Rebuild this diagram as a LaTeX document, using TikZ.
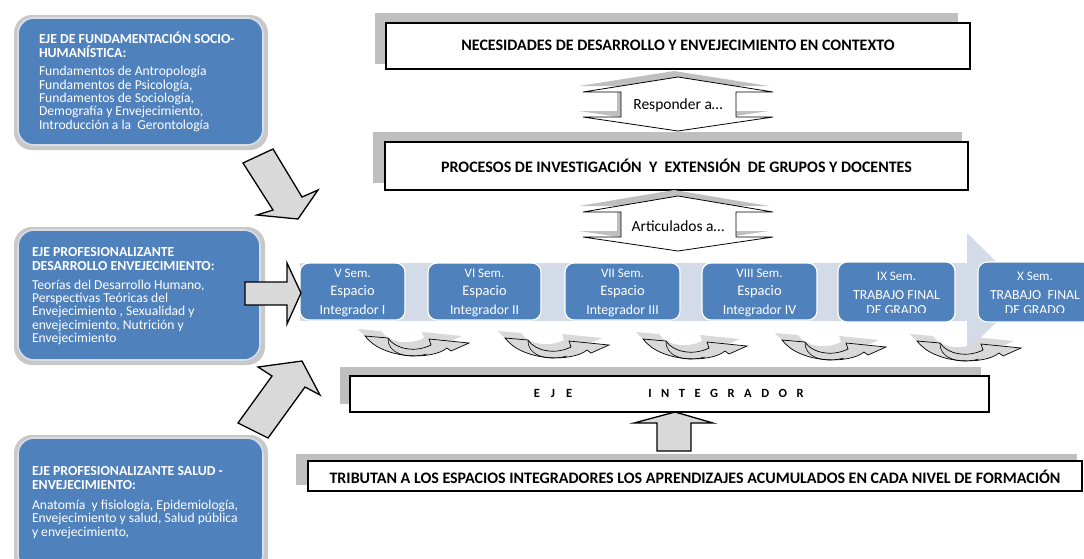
\documentclass[tikz,border=0pt]{standalone}
\usepackage{fontspec}
\setmainfont{Carlito}
\definecolor{boxblue}{HTML}{4F81BD}
\definecolor{boxedge}{HTML}{D6DEEA}
\definecolor{bandblue}{HTML}{D3DBE9}
\definecolor{shadegray}{HTML}{BFBFBF}
\definecolor{arrowfill}{HTML}{D9D9D9}
\definecolor{softshadow}{HTML}{C8C8C8}
\newcommand{\fsz}[2]{\fontsize{#1}{#2}\selectfont}
\tikzset{
  curvarrow/.pic={
    \fill[gray!30] [shift={(-7,-7)}] (0,0) -- (23,2) .. controls (30,13) and (50,17) .. (66,9) -- (64,3) -- (104,7) -- (86,15) -- (82,12) .. controls (68,24) and (18,24) .. cycle;
    \draw[draw=black, line width=0.7pt, fill=arrowfill] (0,0) -- (23,2) .. controls (30,13) and (50,17) .. (66,9) -- (64,3) -- (104,7) -- (86,15) -- (82,12) .. controls (68,24) and (18,24) .. cycle;
    \draw[line width=0.6pt] (23,2) .. controls (22,16) and (40,24) .. (62,18);
  }
}
\begin{document}
\begin{tikzpicture}[x=1pt,y=-1pt,
  every node/.style={inner sep=0pt, outer sep=0pt},
  leftbox/.style={fill=boxblue, draw=boxedge, line width=1.6pt, rounded corners=16pt},
  leftshadow/.style={fill=softshadow, rounded corners=18pt},
  lefttitle/.style={text=white, font=\fsz{13.8}{13.3}\bfseries, align=left, anchor=base west},
  leftbody/.style={text=white, font=\fsz{13.6}{13.3}, align=left, anchor=base west},
  topbox/.style={draw=black, line width=1.3pt, fill=white},
  topshadow/.style={fill=shadegray},
  toptext/.style={font=\fsz{16}{18}\bfseries},
  callout/.style={draw=black, line width=0.8pt, fill=white},
  calloutshadow/.style={fill=shadegray},
  semibox/.style={fill=boxblue, draw=white, line width=1.2pt, rounded corners=9pt},
  semA/.style={text=white, font=\fsz{13}{14}},
  semB/.style={text=white, font=\fsz{14.5}{16}},
  semC/.style={text=white, font=\fsz{13.8}{16}},
  blockarrow/.style={draw=black, line width=1.3pt, fill=arrowfill, line join=miter},
]
\useasboundingbox (0,0) rectangle (1084,558);
\clip (0,0) rectangle (1084,558);

% ---------- left boxes ----------
\fill[leftshadow] (14,15) rectangle (268,150);
\node[leftbox, minimum width=245, minimum height=127] (fund) at (140.5,81.5) {};
\node[lefttitle] (fundt) at (39,57) {EJE DE FUNDAMENTACIÓN SOCIO-\\HUMANÍSTICA:};
\node[leftbody] (fundb) at (39,129) {Fundamentos de Antropología\\Fundamentos de Psicología,\\Fundamentos de Sociología,\\Demografía y Envejecimiento,\\Introducción a la~ Gerontología};

\fill[leftshadow] (14,227) rectangle (265,365);
\node[leftbox, minimum width=242, minimum height=130] (desa) at (139,295) {};
\node[lefttitle] (desat) at (32,270) {EJE PROFESIONALIZANTE\\DESARROLLO ENVEJECIMIENTO:};
\node[leftbody] (desab) at (32,342.5) {Teorías del Desarrollo Humano,\\Perspectivas Teóricas del\\Envejecimiento , Sexualidad y\\envejecimiento, Nutrición y\\Envejecimiento};

\fill[leftshadow] (14,435) rectangle (268,575);
\node[leftbox, minimum width=245, minimum height=132] (salud) at (140.5,504) {};
\node[lefttitle] (saludt) at (32,489) {EJE PROFESIONALIZANTE SALUD -\\ENVEJECIMIENTO:};
\node[leftbody] (saludb) at (32,536) {Anatomía~ y fisiología, Epidemiología,\\Envejecimiento y salud, Salud pública\\y envejecimiento,};

% ---------- top boxes ----------
\fill[topshadow] (375,13) rectangle (958,64);
\node[topbox, minimum width=584, minimum height=46] (nec) at (678,46) {};
\node[toptext] (nect) at (678,45) {NECESIDADES DE DESARROLLO Y ENVEJECIMIENTO EN CONTEXTO};

\fill[calloutshadow] [shift={(-4,-6)}] (678,77) -- (773,92) -- (736,92) -- (736,117) -- (773,117) -- (678,131) -- (583,117) -- (621,117) -- (621,92) -- (583,92) -- cycle;
\draw[callout] (678,77) -- (773,92) -- (736,92) -- (736,117) -- (773,117) -- (678,131) -- (583,117) -- (621,117) -- (621,92) -- (583,92) -- cycle;
\node[font=\fsz{15.5}{18}] (resp) at (678,105) {Responder a…};

\fill[topshadow] (373,132) rectangle (962,183);
\node[topbox, minimum width=583, minimum height=48] (proc) at (676.5,166) {};
\node[toptext] (proct) at (676.5,166) {PROCESOS DE INVESTIGACIÓN~ Y~ EXTENSIÓN~ DE GRUPOS Y DOCENTES};

% ---------- semester band ----------
\fill[bandblue] (300,263) rectangle (967,321);
\fill[bandblue] (967,233) -- (1027,292) -- (967,351) -- cycle;

\fill[calloutshadow] [shift={(-4,-6)}] (678,196) -- (773,212) -- (736,212) -- (736,237) -- (773,237) -- (678,251) -- (583,237) -- (621,237) -- (621,212) -- (583,212) -- cycle;
\draw[callout] (678,196) -- (773,212) -- (736,212) -- (736,237) -- (773,237) -- (678,251) -- (583,237) -- (621,237) -- (621,212) -- (583,212) -- cycle;
\node[font=\fsz{15.5}{18}] (artic) at (678,226) {Articulados a…};

\node[semibox, minimum width=105, minimum height=57] (s5) at (352.5,291.5) {};
\node[semibox, minimum width=113, minimum height=57] (s6) at (484.5,291.5) {};
\node[semibox, minimum width=115, minimum height=57] (s7) at (622.5,291.5) {};
\node[semibox, minimum width=115, minimum height=57] (s8) at (759.5,291.5) {};
\node[semibox, minimum width=117, minimum height=60] (s9) at (896.5,292) {};
\node[semibox, minimum width=114, minimum height=60] (s10) at (1035,292) {};

\node[semA] at (352.5,273) {V Sem.};
\node[semB] at (352.5,292) {Espacio};
\node[semC] at (352.5,311) {Integrador I};
\node[semA] at (484.5,273) {VI Sem.};
\node[semB] at (484.5,292) {Espacio};
\node[semC] at (484.5,311) {Integrador II};
\node[semA] at (622.5,273) {VII Sem.};
\node[semB] at (622.5,292) {Espacio};
\node[semC] at (622.5,311) {Integrador III};
\node[semA] at (759.5,273) {VIII Sem.};
\node[semB] at (759.5,292) {Espacio};
\node[semC] at (759.5,311) {Integrador IV};
\node[semA] at (896.5,276) {IX Sem.};
\node[semC] at (896.5,295) {TRABAJO FINAL};
\node[semA] at (1035,276) {X Sem.};
\node[semC] at (1035,295) {TRABAJO~ FINAL};
\begin{scope}
  \clip (830,250) rectangle (1084,312.5);
  \node[semC] at (896.5,310) {DE GRADO};
  \node[semC] at (1035,310) {DE GRADO};
\end{scope}

% ---------- curved arrows ----------
\pic at (365,336) {curvarrow};
\pic at (505,338) {curvarrow};
\pic at (643,339) {curvarrow};
\pic at (782,340) {curvarrow};
\pic at (917,341) {curvarrow};

% ---------- eje integrador ----------
\fill[topshadow] (340,367) rectangle (981,404);
\node[topbox, minimum width=639, minimum height=36] (eje) at (669.5,394) {};
\node[font=\fsz{12.5}{14}\bfseries] (ejet1) at (553,393) {E\hspace{11pt}J\hspace{11pt}E};
\node[font=\fsz{12.5}{14}\bfseries] (ejet2) at (726,393) {I\hspace{9.5pt}N\hspace{9.5pt}T\hspace{9.5pt}E\hspace{9.5pt}G\hspace{9.5pt}R\hspace{9.5pt}A\hspace{9.5pt}D\hspace{9.5pt}O\hspace{9.5pt}R};

% ---------- tributan ----------
\fill[topshadow] (296,454) rectangle (1077,485);
\node[topbox, minimum width=774, minimum height=30] (trib) at (695,476) {};
\node[toptext] (tribt) at (695,477) {TRIBUTAN A LOS ESPACIOS INTEGRADORES LOS APRENDIZAJES ACUMULADOS EN CADA NIVEL DE FORMACIÓN};

% up arrow trib -> eje
\coordinate (uptip) at (675,412);
\draw[blockarrow] (uptip) -- ++(38,11) -- ++(-22,0) -- ++(0,28) -- ++(-34,0) -- ++(0,-28) -- ++(-23,0) -- cycle;

% ---------- left block arrows ----------
\draw[blockarrow] (243,163) -- (273,149) -- (302,197) -- (318,190) -- (298,219) -- (257,215) -- (273,210) -- cycle;
\draw[blockarrow] (245,282) -- (287,282) -- (287,263) -- (301,293) -- (287,324) -- (287,305) -- (245,305) -- cycle;
\draw[blockarrow] (238,423) -- (272,376) -- (258,367) -- (302,361) -- (320,395) -- (305,387) -- (268,438) -- cycle;
\end{tikzpicture}
\end{document}
